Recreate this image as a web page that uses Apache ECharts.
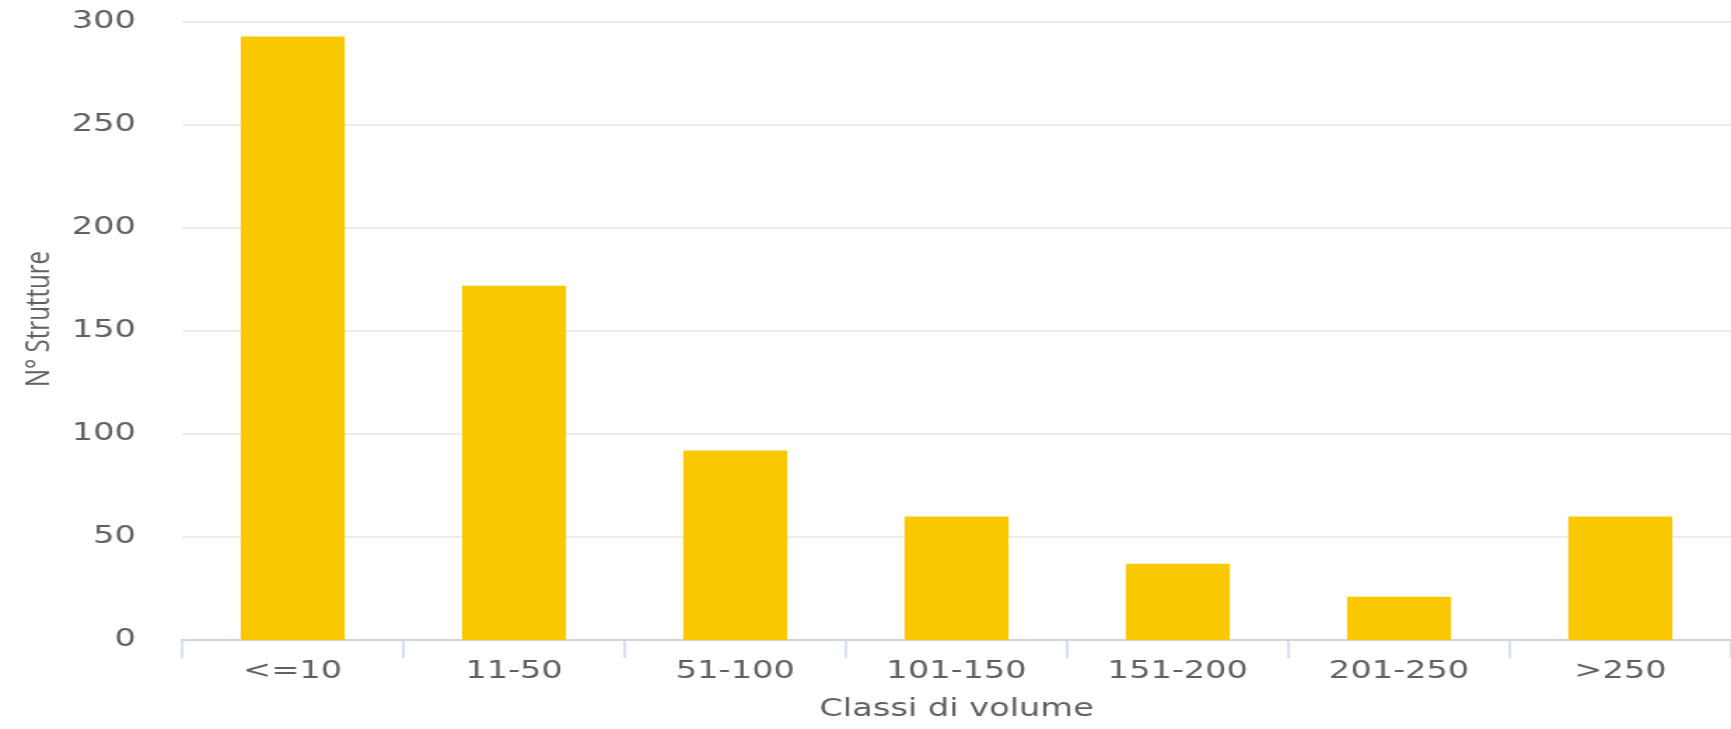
<!DOCTYPE html>
<html>
<head>
<meta charset="utf-8">
<script src="https://cdn.jsdelivr.net/npm/echarts@6/dist/echarts.min.js"></script>
<style>
  html, body { margin: 0; padding: 0; background: #fff; overflow: hidden; }
  /* il grafico originale e' stirato in orizzontale */
  #chart { width: 1236px; height: 729px; transform: scaleX(1.4005); transform-origin: 0 0; }
</style>
</head>
<body>
<div id="chart"></div>
<script>
//dati
var categorie = ['<=10', '11-50', '51-100', '101-150', '151-200', '201-250', '>250'];
var strutture = [293, 172, 92, 60, 37, 21, 60];
var yTicks = [0, 50, 100, 150, 200, 250, 300];

var labelColor = '#606060';
var axisColor = '#ccd6eb';
var gridColor = '#e6e6e6';
var barColor = '#f9c800';

var myChart = echarts.init(document.getElementById('chart'));

var option = {
  animation: false,
  grid: {
    left: 130,
    right: -6,
    top: 22,
    bottom: 89
  },
  xAxis: {
    type: 'category',
    data: categorie,
    name: 'Classi di volume',
    nameLocation: 'middle',
    nameGap: 58,
    nameTextStyle: {
      color: labelColor,
      fontFamily: 'DejaVu Sans',
      fontSize: 24
    },
    axisLine: { lineStyle: { color: axisColor, width: 2 } },
    axisTick: { show: true, length: 18, lineStyle: { color: axisColor, width: 1.5 } },
    axisLabel: {
      color: labelColor,
      fontFamily: 'DejaVu Sans',
      fontSize: 24,
      margin: 20
    }
  },
  yAxis: {
    type: 'value',
    min: yTicks[0],
    max: yTicks[yTicks.length - 1],
    interval: 50,
    name: 'N° Strutture',
    nameLocation: 'middle',
    nameGap: 89,
    nameTextStyle: {
      color: labelColor,
      fontFamily: 'Open Sans',
      fontSize: 24,
      padding: [0, 0, 0, 24]
    },
    axisLine: { show: false },
    axisTick: { show: false },
    axisLabel: {
      color: labelColor,
      fontFamily: 'DejaVu Sans',
      fontSize: 24,
      margin: 33
    },
    splitLine: { lineStyle: { color: gridColor, width: 1.5 } }
  },
  series: [{
    type: 'bar',
    data: strutture,
    barWidth: '47%',
    itemStyle: { color: barColor }
  }]
};

myChart.setOption(option, true);
</script>
</body>
</html>
